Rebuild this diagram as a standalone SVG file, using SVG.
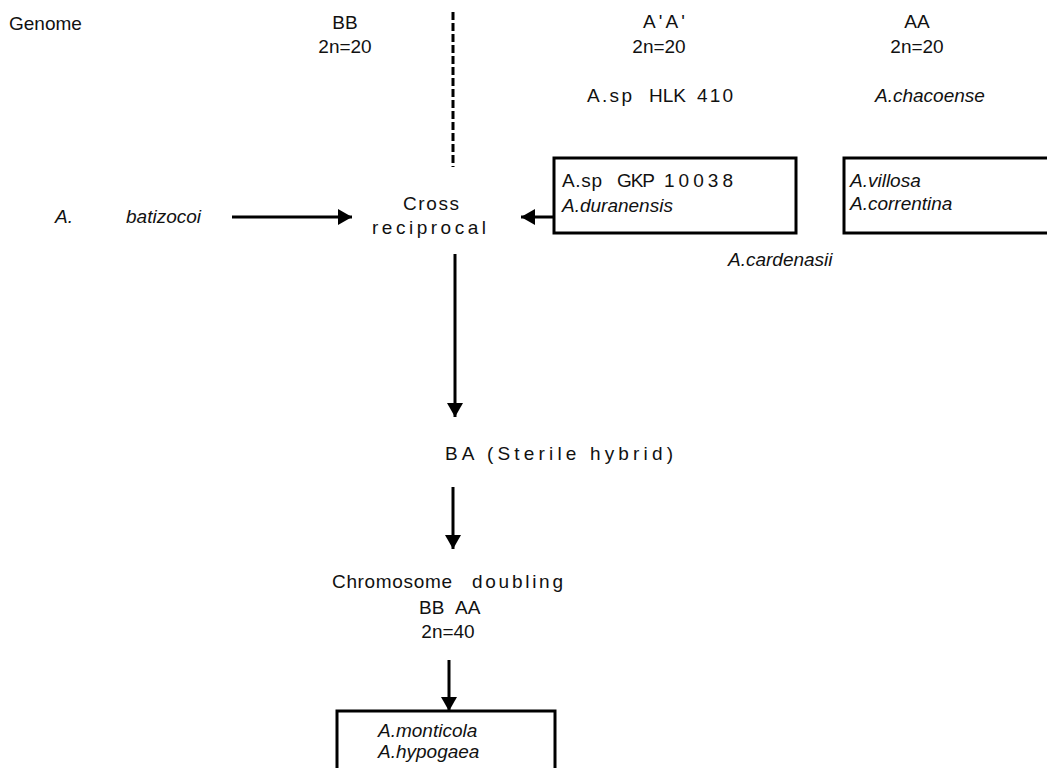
<svg xmlns="http://www.w3.org/2000/svg" width="1047" height="768" viewBox="0 0 1047 768">
<style>
text{font-family:"Liberation Sans",Arial,sans-serif;font-size:19px;fill:#111}
.i{font-style:italic}
.m{text-anchor:middle}
.box{fill:#fff;stroke:#000;stroke-width:3}
.ln{stroke:#000;stroke-width:3;fill:none}
</style>
<defs>
<marker id="ah" markerUnits="userSpaceOnUse" markerWidth="16" markerHeight="16" refX="14" refY="8" orient="auto">
<path d="M0,0 L14,8 L0,16 Z" fill="#000"/>
</marker>
</defs>
<g id="labels">
<text x="9" y="30">Genome</text>
<text x="345" y="29" class="m">BB</text>
<text x="345" y="53" class="m">2n=20</text>
<text x="643" y="28" textLength="42" lengthAdjust="spacing">A'A'</text>
<text x="659" y="53" class="m">2n=20</text>
<text x="917" y="28" class="m">AA</text>
<text x="917" y="53" class="m">2n=20</text>
</g>
<g id="hlk">
<text x="587" y="102" textLength="45" lengthAdjust="spacing">A.sp</text>
<text x="649" y="102" textLength="37" lengthAdjust="spacing">HLK</text>
<text x="697" y="102" textLength="36" lengthAdjust="spacing">410</text>
</g>
<g id="chacoense"><text x="875" y="102" class="i">A.chacoense</text></g>
<g id="box1">
<rect x="554" y="158" width="242" height="75" class="box"/>
<text x="562" y="187" textLength="40" lengthAdjust="spacing">A.sp</text>
<text x="617" y="187" textLength="38" lengthAdjust="spacing">GKP</text>
<text x="664" y="187" textLength="69" lengthAdjust="spacing">10038</text>
<text x="562" y="212" class="i">A.duranensis</text>
</g>
<g id="box2">
<rect x="844" y="158" width="220" height="75" class="box"/>
<text x="850" y="187" class="i">A.villosa</text>
<text x="850" y="210" class="i">A.correntina</text>
</g>
<g id="cardenasii"><text x="728" y="266" class="i">A.cardenasii</text></g>
<g id="batizocoi">
<text x="55" y="223" class="i">A.</text>
<text x="126" y="223" class="i">batizocoi</text>
</g>
<g id="cross">
<text x="403" y="210" textLength="56" lengthAdjust="spacing">Cross</text>
<text x="372" y="234" textLength="114" lengthAdjust="spacing">reciprocal</text>
</g>
<g id="hybrid"><text x="445" y="460" textLength="228" lengthAdjust="spacing">BA (Sterile hybrid)</text></g>
<g id="doubling">
<text x="332" y="588" textLength="120" lengthAdjust="spacing">Chromosome</text>
<text x="472" y="588" textLength="91" lengthAdjust="spacing">doubling</text>
<text x="419" y="614">BB</text>
<text x="455" y="614">AA</text>
<text x="448" y="638" class="m">2n=40</text>
</g>
<g id="box3">
<rect x="337" y="711" width="218" height="70" class="box"/>
<text x="378" y="737" class="i">A.monticola</text>
<text x="378" y="758" class="i">A.hypogaea</text>
</g>
<g id="connectors">
<line x1="453" y1="12" x2="453" y2="167" class="ln" stroke-dasharray="8,3"/>
<line x1="232" y1="217" x2="352" y2="217" class="ln" marker-end="url(#ah)"/>
<line x1="553" y1="217" x2="521" y2="217" class="ln" marker-end="url(#ah)"/>
<line x1="455" y1="254" x2="455" y2="417" class="ln" marker-end="url(#ah)"/>
<line x1="453" y1="487" x2="453" y2="549" class="ln" marker-end="url(#ah)"/>
<line x1="449" y1="660" x2="449" y2="711" class="ln" marker-end="url(#ah)"/>
</g>
</svg>
